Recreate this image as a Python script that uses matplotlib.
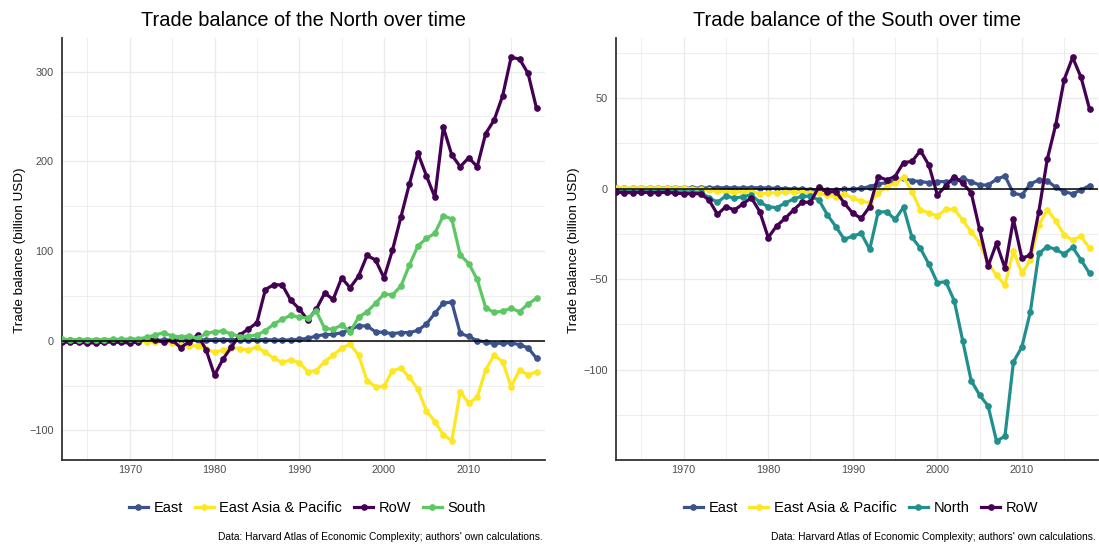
import matplotlib
matplotlib.use("Agg")
import matplotlib.pyplot as plt
from matplotlib.ticker import MultipleLocator

plt.rcParams["font.family"] = ["Liberation Sans", "DejaVu Sans"]

years = list(range(1962, 2019))

# Handelsbilanz des Nordens (Mrd. USD)
north_east = [0.2, 0.2, 0.3, 0.3, 0.3, 0.4, 0.4, 0.5, 0.5, 0.5,
              0.6, 0.6, 0.7, 0.7, 0.8, 0.8, 0.9, 1.0, 1.2, 1.3, 1.1, 1.0, 1.2, 1.3, 1.2, 0.8,
              0.7, 0.9, 1.5, 2.6, 5.2, 6.8, 7.0, 8.8, 12.5, 16.5, 16.5, 9.8, 9.2, 7.8, 9.0,
              9.0, 11.5, 18.5, 30.5, 42.0, 43.0, 8.0, 4.8, 0.0, -1.5, -3.5, -2.5, -2.5, -4.5,
              -8.0, -19.7]
north_eap = [0.1, 0.1, 0.1, 0.2, 0.2, 0.2, 0.2, 0.1, 0.0, -0.3,
             -1.0, -2.0, -1.0, -3.0, -4.5, -6.0, -5.6, -9.0, -13.0, -10.8, -7.8, -8.9, -10.5,
             -7.0, -13.0, -19.8,
             -24.2, -21.4, -24.5, -34.5, -33.4, -23.4, -16.0, -8.5, -4.0, -16.0, -44.6, -51.3,
             -51.0, -33.4, -30.8, -40.8, -54.2, -78.0, -90.3, -105.0, -111.4, -56.8, -69.8,
             -63.0, -32.7, -16.0, -23.4, -51.3, -32.7, -38.3, -34.5]
north_row = [-1.5, -1.8, -2.0, -2.5, -2.5, -1.8, -1.5, -2.0, -2.6, -1.5,
             3.0, 0.5, -1.5, 1.0, -8.0, -1.0, 6.3, -10.0, -38.5, -20.5, -7.0, 6.5, 13.0, 20.0,
             57.0, 62.5,
             62.0, 45.0, 35.5, 23.0, 35.0, 53.0, 46.0, 70.0, 59.0, 72.0, 95.0, 90.0, 70.0,
             101.0, 138.0, 175.0, 209.0, 184.0, 160.0, 238.0, 207.0, 194.0, 204.0, 194.0,
             231.0, 246.0, 273.0, 316.0, 314.0, 298.0, 259.0]
north_south = [1.5, 1.2, 1.0, 1.2, 1.0, 1.3, 1.5, 1.6, 1.8, 2.0,
               3.7, 6.3, 8.9, 5.0, 4.4, 5.0, 2.6, 8.0, 10.0, 10.8, 7.4, 4.5, 5.2, 6.3, 11.2,
               18.5,
               24.0, 28.2, 26.4, 25.0, 33.0, 13.7, 12.6, 17.5, 10.0, 26.0, 32.3, 41.6, 52.0,
               51.0, 61.0, 84.3, 105.6, 114.0, 119.7, 139.4, 135.6, 95.5, 86.0, 68.3, 36.7,
               31.5, 33.0, 36.0, 32.3, 40.9, 47.2]

# Handelsbilanz des Suedens (Mrd. USD)
south_east = [0.1, 0.1, 0.2, 0.2, 0.2, 0.2, 0.3, 0.3, 0.3, 0.3, 0.4, 0.4, 0.5, 0.5, 0.4,
              0.4, 0.5, 0.5, 0.3, 0.2, 0.0, -0.2, -0.3, -0.5,
              -1.0, -1.0, -0.7, -0.4, -0.4, 0.2, 1.1, 2.6, 3.3, 4.4, 5.7, 4.4, 3.9, 3.3, 3.9,
              3.9, 3.9, 5.7, 3.9, 2.0, 2.0, 5.2, 7.0, -2.6, -3.5, 2.6, 4.8, 4.4, 0.7, -1.6,
              -2.9, -0.7, 1.7]
south_eap = [0.3, 0.3, 0.3, 0.3, 0.2, 0.2, 0.2, 0.2, 0.1, 0.0, -0.3, -0.7, -1.5, -1.7,
             -1.8, -1.7, -1.3, -3.0, -2.4, -2.2, -2.0, -1.8, -2.0, -2.2,
             -2.5, -3.5, -4.4, -2.9, -5.3, -6.8, -8.0, -2.5, 1.1, 3.0, 6.3, -1.6, -11.8,
             -13.3, -15.1, -11.4, -11.4, -17.3, -23.8, -29.9, -41.3, -47.8, -53.3, -34.3,
             -46.8, -39.4, -20.0, -11.8, -17.7, -25.6, -28.4, -26.2, -33.0]
south_north = [-1.5, -1.6, -1.7, -1.7, -1.7, -1.6, -1.6, -1.7, -1.8, -1.8, -2.0, -5.0,
               -7.5, -4.0, -5.3, -4.4, -3.5, -7.5, -10.0, -10.5, -8.0, -5.7, -4.2, -4.2,
               -6.3, -14.5, -21.0, -28.0, -26.2, -24.7, -33.6, -13.0, -12.7, -17.0, -10.3,
               -26.9, -33.0, -41.7, -52.0, -51.4, -61.9, -84.0, -106.0, -114.0, -120.0,
               -139.4, -136.7, -95.7, -87.4, -68.0, -35.8, -32.0, -33.6, -36.1, -32.4,
               -39.4, -46.8]
south_row = [-2.0, -2.2, -2.2, -2.0, -2.2, -2.2, -2.0, -2.5, -2.8, -2.8, -2.8, -6.3, -14.2,
             -9.9, -11.8, -8.5, -5.0, -12.7, -27.0, -20.6, -16.4, -11.8, -7.5, -7.5,
             1.1, -2.0, -1.6, -8.0, -13.6, -16.4, -10.0, 6.7, 4.8, 6.7, 14.4, 15.0, 21.0,
             13.0, -3.5, 1.5, 6.7, 3.0, -2.2, -22.5, -42.8, -30.2, -44.0, -17.0, -38.5,
             -36.7, -12.7, 16.2, 35.2, 60.2, 72.5, 61.4, 44.0]

colors = {
    "East": "#3B528B",
    "East Asia & Pacific": "#FDE725",
    "North": "#21908C",
    "RoW": "#440154",
    "South": "#5DC863",
}

W, H = 1099, 544
fig = plt.figure(figsize=(W / 100, H / 100), dpi=100)


def draw_panel(left, right, series, title, ylim, ystep):
    ax = fig.add_axes([left / W, 1 - 459.5 / H, (right - left) / W, (459.5 - 38) / H])
    for name, vals in series:
        ax.plot(years, vals, color=colors[name], lw=2.3, marker="o", ms=3.8,
                label=name, zorder=3)
    ax.axhline(0, color="black", lw=1.1, zorder=4)
    ax.set_xlim(1962, 2019)
    ax.set_ylim(*ylim)
    ax.xaxis.set_major_locator(MultipleLocator(10))
    ax.xaxis.set_minor_locator(MultipleLocator(5))
    ax.yaxis.set_major_locator(MultipleLocator(ystep))
    ax.yaxis.set_minor_locator(MultipleLocator(ystep / 2))
    ax.grid(which="major", color="#EBEBEB", lw=1.0)
    ax.grid(which="minor", color="#EBEBEB", lw=0.6)
    ax.set_axisbelow(True)
    for s in ["top", "right"]:
        ax.spines[s].set_visible(False)
    for s in ["left", "bottom"]:
        ax.spines[s].set_color("#333333")
        ax.spines[s].set_linewidth(1.3)
    ax.tick_params(which="both", length=0, labelsize=7.8, labelcolor="#4D4D4D")
    ax.tick_params(axis="y", pad=6)
    ax.tick_params(axis="x", pad=4)

    cx = (left + right) / 2
    fig.text(cx / W, 1 - 20 / H, title, ha="center", va="center", fontsize=14.4)
    fig.text((left - 42) / W, 1 - 250 / H, "Trade balance (billion USD)", rotation=90,
             ha="center", va="center", fontsize=9.7)
    handles, labels = ax.get_legend_handles_labels()
    fig.legend(handles, labels, loc="center", bbox_to_anchor=((cx + 4) / W, 1 - 508 / H),
               ncol=4, frameon=False, fontsize=10.5, handlelength=1.3,
               handletextpad=0.4, columnspacing=0.8)
    fig.text((right - 2) / W, 1 - 537 / H,
             "Data: Harvard Atlas of Economic Complexity; authors' own calculations.",
             ha="right", va="center", fontsize=7.4)
    return ax


draw_panel(62, 545, [("East", north_east), ("East Asia & Pacific", north_eap),
                     ("RoW", north_row), ("South", north_south)],
           "Trade balance of the North over time", (-132.5, 337.5), 100)
draw_panel(616, 1098, [("East", south_east), ("East Asia & Pacific", south_eap),
                       ("North", south_north), ("RoW", south_row)],
           "Trade balance of the South over time", (-149.6, 83.2), 50)

fig.savefig("out.png", dpi=100)
